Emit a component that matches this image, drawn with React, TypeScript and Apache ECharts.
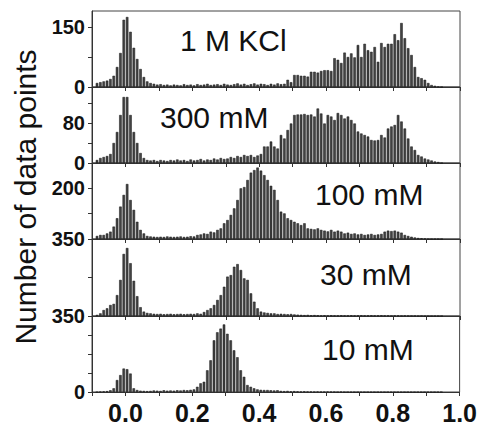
import React, { useEffect, useRef } from 'react';
import * as echarts from 'echarts';

// Histogram bins: centres start at -0.085 and step by 0.01 (104 bins)
const binStart = -0.085;
const binStep = 0.01;

const panelLabels = ['1 M KCl', '300 mM', '100 mM', '30 mM', '10 mM'];

const counts1MKCl = [
  10, 12, 14, 16, 20, 28, 50, 85, 168, 175,
  138, 98, 70, 45, 25, 14, 10, 8, 6, 7,
  5, 6, 4, 6, 5, 4, 7, 5, 6, 4,
  7, 5, 6, 8, 5, 6, 7, 5, 8, 6,
  5, 7, 9, 6, 8, 5, 7, 9, 6, 8,
  7, 5, 8, 6, 9, 7, 8, 18, 12, 30,
  30, 28, 28, 26, 38, 38, 36, 40, 42, 42,
  40, 72, 68, 60, 86, 75, 84, 74, 105, 75,
  108, 92, 88, 100, 63, 110, 100, 108, 108, 132,
  117, 160, 122, 97, 80, 50, 25, 22, 18, 10,
  5, 3, 1, 0,
];

const counts300mM = [
  6, 10, 12, 14, 18, 40, 62, 96, 132, 132,
  96, 62, 40, 20, 10, 6, 5, 6, 4, 6,
  5, 4, 6, 5, 7, 5, 6, 4, 7, 5,
  6, 8, 5, 7, 6, 9, 7, 10, 8, 9,
  12, 10, 14, 12, 16, 14, 16, 12, 15, 18,
  33, 33, 43, 33, 29, 56, 49, 66, 79, 96,
  97, 97, 98, 96, 97, 93, 109, 99, 79, 96,
  93, 86, 100, 96, 89, 93, 86, 79, 63, 59,
  56, 53, 46, 45, 46, 56, 51, 69, 73, 76,
  96, 83, 69, 49, 33, 26, 16, 13, 9, 7,
  5, 3, 2, 0,
];

const counts100mM = [
  12, 16, 16, 22, 29, 49, 82, 128, 174, 217,
  154, 115, 68, 36, 22, 12, 10, 9, 8, 9,
  8, 10, 9, 8, 9, 10, 8, 9, 11, 10,
  16, 18, 22, 20, 29, 26, 36, 42, 62, 75,
  95, 121, 154, 200, 205, 233, 262, 272, 282, 270,
  252, 233, 210, 194, 154, 108, 101, 82, 75, 68,
  62, 55, 62, 42, 40, 38, 42, 36, 33, 30,
  36, 29, 33, 29, 22, 25, 20, 22, 18, 20,
  16, 18, 20, 16, 18, 20, 29, 33, 31, 33,
  29, 25, 16, 12, 9, 6, 4, 3, 2, 0,
  0, 0, 0, 0,
];

const counts30mM = [
  5, 12, 27, 35, 50, 55, 95, 164, 282, 309,
  240, 160, 90, 40, 20, 14, 12, 10, 9, 10,
  8, 9, 10, 8, 9, 10, 8, 9, 10, 9,
  12, 10, 18, 27, 35, 50, 73, 95, 133, 179,
  186, 224, 236, 209, 171, 164, 103, 65, 35, 20,
  16, 14, 12, 12, 9, 10, 9, 8, 9, 7,
  6, 5, 4, 5, 3, 4, 3, 2, 3, 2,
  3, 2, 2, 3, 2, 2, 3, 2, 2, 3,
  2, 2, 3, 2, 2, 3, 2, 2, 1, 2,
  2, 1, 2, 1, 1, 1, 0, 1, 0, 0,
  0, 0, 0, 0,
];

const counts10mM = [
  0, 2, 3, 4, 8, 17, 55, 78, 108, 105,
  85, 17, 9, 6, 5, 4, 5, 7, 6, 5,
  8, 6, 7, 6, 8, 7, 9, 8, 10, 12,
  24, 40, 47, 100, 146, 238, 275, 292, 311, 268,
  238, 192, 160, 100, 70, 32, 24, 17, 12, 10,
  9, 9, 8, 7, 8, 5, 4, 5, 3, 4,
  3, 2, 3, 2, 2, 1, 2, 1, 1, 2,
  1, 1, 0, 1, 0, 0, 0, 0, 0, 0,
  0, 0, 0, 0, 0, 0, 0, 0, 0, 0,
  0, 0, 0, 0, 0, 0, 0, 0, 0, 0,
  0, 0, 0, 0,
];

const panelCounts = [counts1MKCl, counts300mM, counts100mM, counts30mM, counts10mM];

// y-axis scales and the tick labels shown on each panel
const yMax = [190, 152, 300, 350, 350];
const yInterval = [75, 40, 100, 175, 87.5];
const yTickLabels = [[0, 150], [0, 80], [200], [350], [0, 350]];

const xMin = -0.1;
const xMax = 1.0;
const xTickLabels = ['0.0', '0.2', '0.4', '0.6', '0.8', '1.0'];

const yTitle = 'Number of data points';

export default function App() {
  const ref = useRef<HTMLDivElement>(null);

  useEffect(() => {
    const chart = echarts.init(ref.current!, null, { renderer: 'svg' });
    const tops = [11, 87, 163, 239, 316];
    const heights = [76, 76, 76, 77, 76];
    const labelPos = [
      [180, 40],
      [160, 117],
      [315, 194],
      [320, 274],
      [322, 349],
    ];
    const narrow = '"Liberation Sans Narrow", "Arial Narrow", "Liberation Sans", Arial, sans-serif';

    const grids = tops.map((t, i) => ({
      left: 92,
      right: 20,
      top: t,
      height: heights[i],
      show: true,
      borderColor: '#444',
      borderWidth: 1,
      backgroundColor: 'transparent',
    }));

    const xAxes = tops.map((_, i) => ({
      type: 'value',
      gridIndex: i,
      min: xMin,
      max: xMax,
      interval: 0.1,
      axisLine: { show: true, onZero: false, lineStyle: { color: '#333', width: 1 } },
      axisTick: { show: true, length: 4, lineStyle: { color: '#333' } },
      splitLine: { show: false },
      axisLabel: {
        show: i === tops.length - 1,
        margin: 8,
        color: '#111',
        fontSize: 25,
        fontWeight: 'bold',
        fontFamily: narrow,
        formatter: (v: number) => {
          const r = Math.round(v * 10);
          const s = (r / 10).toFixed(1);
          return r >= 0 && r % 2 === 0 && xTickLabels.includes(s) ? s : '';
        },
      },
    }));

    const yAxes = tops.map((_, i) => ({
      type: 'value',
      gridIndex: i,
      min: 0,
      max: yMax[i],
      interval: yInterval[i],
      axisLine: { show: true, onZero: false, lineStyle: { color: '#333', width: 1 } },
      axisTick: { show: true, length: 4, lineStyle: { color: '#333' } },
      splitLine: { show: false },
      axisLabel: {
        margin: 7,
        color: '#111',
        fontSize: 20,
        fontWeight: 'bold',
        fontFamily: narrow,
        showMaxLabel: yTickLabels[i].includes(yMax[i]),
        formatter: (v: number) => (yTickLabels[i].includes(v) ? String(v) : ''),
      },
    }));

    const series = panelCounts.map((arr, i) => ({
      type: 'bar',
      xAxisIndex: i,
      yAxisIndex: i,
      barWidth: 2.5,
      itemStyle: { color: '#444', borderColor: '#111', borderWidth: 0.5 },
      data: arr.map((c, k) => [+(binStart + k * binStep).toFixed(3), c]),
    }));

    const graphic: any[] = [
      {
        type: 'text',
        x: 25,
        y: 197,
        rotation: Math.PI / 2,
        style: {
          text: yTitle,
          font: '30px "Liberation Sans", Arial, sans-serif',
          fill: '#111',
          align: 'center',
          verticalAlign: 'middle',
        },
      },
      ...panelLabels.map((t, i) => ({
        type: 'text',
        x: labelPos[i][0],
        y: labelPos[i][1],
        style: {
          text: t,
          font: '30px "Liberation Sans", Arial, sans-serif',
          fill: '#111',
          align: 'left',
          verticalAlign: 'middle',
        },
      })),
    ];

    chart.setOption({
      animation: false,
      backgroundColor: '#fff',
      grid: grids,
      xAxis: xAxes,
      yAxis: yAxes,
      series,
      graphic,
    });
    return () => chart.dispose();
  }, []);

  return (
    <div
      ref={ref}
      style={{ position: 'fixed', left: 0, top: 0, width: 480, height: 426 }}
    />
  );
}
